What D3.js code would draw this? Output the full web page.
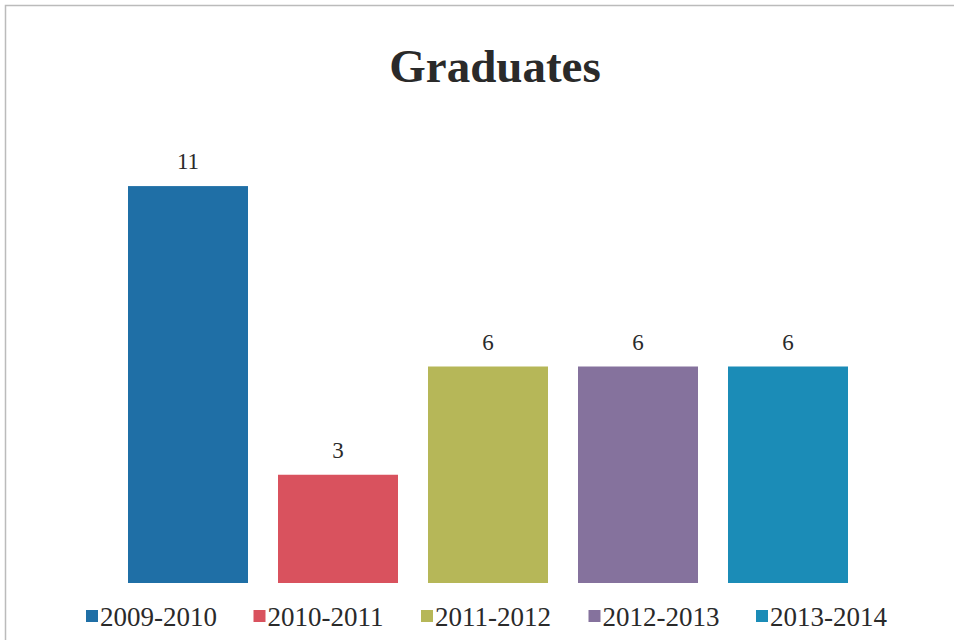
<!DOCTYPE html>
<html>
<head>
<meta charset="utf-8">
<script src="https://cdn.jsdelivr.net/npm/d3@7"></script>
<style>
  body { margin: 0; background: #fff; }
  text { font-family: "Liberation Serif", "Times New Roman", serif; fill: #2a2a2a; }
</style>
</head>
<body>
<div id="chart"></div>
<script>
// data
const years = ['2009-2010', '2010-2011', '2011-2012', '2012-2013', '2013-2014']
const graduates = [11, 3, 6, 6, 6]
const barColors = ['#1f6fa6', '#d9525e', '#b6b758', '#85729d', '#1b8cb7']

const width = 954
const height = 640

const svg = d3.select('#chart')
    .append('svg')
    .attr('width', width)
    .attr('height', height)

// chart frame (only top/left edges visible in the picture)
svg.append('rect')
    .attr('x', 5.5)
    .attr('y', 5.5)
    .attr('width', width + 10)
    .attr('height', height + 10)
    .attr('fill', 'none')
    .attr('stroke', '#bbb')
    .attr('stroke-width', 1.5)

// title
svg.append('text')
    .attr('x', 495)
    .attr('y', 82)
    .attr('text-anchor', 'middle')
    .style('font-size', '47px')
    .style('font-weight', 'bold')
    .text('Graduates')

// scales
const xScale = d3.scaleBand()
    .domain(years)
    .range([113, 863])
    .paddingInner(0.2)
    .paddingOuter(0.1)

const yScale = d3.scaleLinear()
    .domain([0, 12])
    .range([583, 150])

// bars
svg.append('g')
    .selectAll('rect')
    .data(years)
    .join('rect')
    .attr('x', d => xScale(d))
    .attr('y', (d, i) => yScale(graduates[i]))
    .attr('width', xScale.bandwidth())
    .attr('height', (d, i) => yScale(0) - yScale(graduates[i]))
    .attr('fill', (d, i) => barColors[i])

// value labels
svg.append('g')
    .selectAll('text')
    .data(years)
    .join('text')
    .attr('x', d => xScale(d) + xScale.bandwidth() / 2)
    .attr('y', (d, i) => yScale(graduates[i]) - 17)
    .attr('text-anchor', 'middle')
    .style('font-size', '23px')
    .text((d, i) => graduates[i])

// legend
const legendScale = d3.scalePoint()
    .domain(years)
    .range([86, 756])
const legend = svg.append('g')
    .selectAll('g')
    .data(years)
    .join('g')
    .attr('transform', d => `translate(${legendScale(d)}, 616)`)

legend.append('rect')
    .attr('x', 0)
    .attr('y', -6)
    .attr('width', 12)
    .attr('height', 12)
    .attr('fill', (d, i) => barColors[i])

legend.append('text')
    .attr('x', 14)
    .attr('y', 10)
    .style('font-size', '27px')
    .text(d => d)
</script>
</body>
</html>
